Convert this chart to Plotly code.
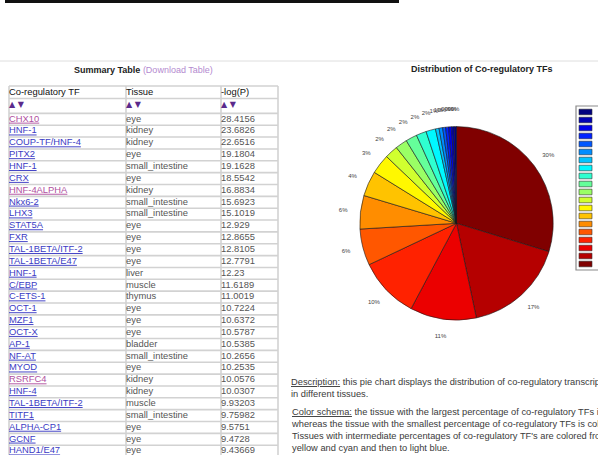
import plotly.graph_objects as go

W, H = 598, 455
FONT = "Arial, Liberation Sans, sans-serif"

# ---------------- data ----------------
table_columns = ["Co-regulatory TF", "Tissue", "-log(P)"]
tf_names = ["CHX10", "HNF-1", "COUP-TF/HNF-4", "PITX2", "HNF-1", "CRX", "HNF-4ALPHA",
            "Nkx6-2", "LHX3", "STAT5A", "FXR", "TAL-1BETA/ITF-2", "TAL-1BETA/E47",
            "HNF-1", "C/EBP", "C-ETS-1", "OCT-1", "MZF1", "OCT-X", "AP-1", "NF-AT",
            "MYOD", "RSRFC4", "HNF-4", "TAL-1BETA/ITF-2", "TITF1", "ALPHA-CP1",
            "GCNF", "HAND1/E47"]
tissues = ["eye", "kidney", "kidney", "eye", "small_intestine", "eye", "kidney",
           "small_intestine", "small_intestine", "eye", "eye", "eye", "eye",
           "liver", "muscle", "thymus", "eye", "eye", "eye", "bladder",
           "small_intestine", "eye", "kidney", "kidney", "muscle",
           "small_intestine", "eye", "eye", "eye"]
neg_log_p = [28.4156, 23.6826, 22.6516, 19.1804, 19.1628, 18.5542, 16.8834,
             15.6923, 15.1019, 12.929, 12.8655, 12.8105, 12.7791, 12.23,
             11.6189, 11.0019, 10.7224, 10.6372, 10.5787, 10.5385, 10.2656,
             10.2535, 10.0576, 10.0307, 9.93203, 9.75982, 9.5751, 9.4728, 9.43669]
visited_rows = [0, 6, 22]

pie_tissues = ["eye", "kidney", "small_intestine", "liver", "muscle", "thymus",
               "bladder", "heart", "lung", "brain", "pancreas", "spleen",
               "stomach", "skin", "bone_marrow", "adrenal_gland", "placenta",
               "testis", "uterus", "prostate"]
pie_values = [29.8, 17.0, 11.1, 10.2, 6.1, 5.6, 4.2, 3.3, 2.2, 2.0, 1.9, 1.7,
              1.6, 0.6, 0.6, 0.5, 0.5, 0.5, 0.4, 0.4]

chart_title = "Distribution of Co-regulatory TFs"
table_title = "Summary Table"
table_link = "(Download Table)"
desc_par1 = ("<u>Description:</u> this pie chart displays the distribution of co-regulatory "
             "transcription factors<br>in different tissues.")
desc_par2 = ("<u>Color schema:</u> the tissue with the largest percentage of co-regulatory TFs is "
             "colored dark red<br>whereas the tissue with the smallest percentage of "
             "co-regulatory TFs is colored dark blue.<br>Tissues with intermediate percentages "
             "of co-regulatory TF's are colored from red to<br>yellow and cyan and then to light blue.")

# ---------------- styles / geometry ----------------
def jet(t):
    c = lambda v: max(0.0, min(1.0, v))
    r, g, b = c(1.5 - abs(4 * t - 3)), c(1.5 - abs(4 * t - 2)), c(1.5 - abs(4 * t - 1))
    return f"rgb({round(255*r)},{round(255*g)},{round(255*b)})"

n_sl = len(pie_values)
slice_colors = [jet((n_sl - 1 - k) / (n_sl - 1)) for k in range(n_sl)]

COL_X = [9, 126, 221, 278]
TBL_TOP = 86
HDR_Y = 92.5
ARW_Y = 104.5
ROW0 = 119.3
PITCH = 11.85
GRID = "#d2d2d2"
LINK = "#3b3bc4"
VISITED = "#b0509e"
CELL = "#555555"
TFS = 9.4

n_rows = len(tf_names)
row_y = [ROW0 + PITCH * i for i in range(n_rows)]
link_colors = [VISITED if i in visited_rows else LINK for i in range(n_rows)]

PIE_CX, PIE_CY, PIE_R = 456.5, 223.3, 96.7
LABEL_R = 1.18
POLAR_MAX = 1.25

fig = go.Figure()

# ---- table cells (pixel axis) ----
txt = dict(mode="text", textposition="middle right", hoverinfo="skip",
           showlegend=False, cliponaxis=False)
fig.add_trace(go.Scatter(x=[COL_X[0]] * n_rows, y=row_y,
                         text=[f"<u>{t}</u>" for t in tf_names],
                         textfont=dict(family=FONT, size=TFS, color=link_colors), **txt))
fig.add_trace(go.Scatter(x=[COL_X[1]] * n_rows, y=row_y, text=tissues,
                         textfont=dict(family=FONT, size=TFS, color=CELL), **txt))
fig.add_trace(go.Scatter(x=[COL_X[2]] * n_rows, y=row_y, text=[str(v) for v in neg_log_p],
                         textfont=dict(family=FONT, size=TFS, color=CELL), **txt))
fig.add_trace(go.Scatter(x=COL_X[:3], y=[HDR_Y] * 3, text=table_columns,
                         textfont=dict(family=FONT, size=TFS, color="#111111"), **txt))
fig.add_trace(go.Scatter(x=COL_X[:3], y=[ARW_Y] * 3, text=["▲ ▼"] * 3,
                         textfont=dict(family="DejaVu Sans", size=8, color="#5a2a8c"), **txt))

shapes = []
# top black bar and separator
shapes.append(dict(type="rect", xref="x", yref="y", x0=5, x1=399, y0=0, y1=3,
                   fillcolor="#111111", line=dict(width=0), layer="above"))
shapes.append(dict(type="line", xref="x", yref="y", x0=0, x1=W, y0=61, y1=61,
                   line=dict(color="#dedede", width=1), layer="below"))
# table grid
bounds = [TBL_TOP, (HDR_Y + ARW_Y) / 2, ROW0 - PITCH / 2] + [ROW0 + PITCH * (i + 0.5) for i in range(n_rows)]
for yb in bounds:
    shapes.append(dict(type="line", xref="x", yref="y", x0=COL_X[0], x1=COL_X[-1], y0=yb, y1=yb,
                       line=dict(color=GRID, width=1.6), layer="below"))
for xb in COL_X:
    shapes.append(dict(type="line", xref="x", yref="y", x0=xb, x1=xb, y0=TBL_TOP, y1=H + 5,
                       line=dict(color=GRID, width=1.6), layer="below"))

# ---- pie ----
fig.add_trace(go.Pie(values=pie_values, labels=pie_tissues, sort=False, direction="clockwise",
                     rotation=0, textinfo="none", hoverinfo="label+percent", showlegend=False,
                     marker=dict(colors=slice_colors, line=dict(color="#1a1a1a", width=0.6)),
                     domain=dict(x=[(PIE_CX - PIE_R) / W, (PIE_CX + PIE_R) / W],
                                 y=[1 - (PIE_CY + PIE_R) / H, 1 - (PIE_CY - PIE_R) / H])))

# ---- pie percentage labels (polar, same centre) ----
total = sum(pie_values)
mids, cum = [], 0.0
for v in pie_values:
    mids.append((cum + v / 2) / total * 360)
    cum += v
pct_text = [f"{int(v / total * 100 + 0.5)}%" for v in pie_values]
fig.add_trace(go.Scatterpolar(r=[LABEL_R] * n_sl, theta=mids, mode="text", text=pct_text,
                              textfont=dict(family=FONT, size=6, color="#444444"),
                              hoverinfo="skip", showlegend=False))
PH = PIE_R * POLAR_MAX

# ---- colour legend (bars on pixel axis) ----
LEG_TOP, LEG_PITCH = 112, 8.0
leg_y = [LEG_TOP + LEG_PITCH * (n_sl - 1 - k) for k in range(n_sl)]
shapes.append(dict(type="rect", xref="x", yref="y", x0=576, x1=W + 5, y0=LEG_TOP - 6,
                   y1=LEG_TOP + LEG_PITCH * (n_sl - 1) + 6,
                   fillcolor="white", line=dict(color="#8a8a8a", width=1.2), layer="below"))
fig.add_trace(go.Bar(orientation="h", y=leg_y, x=[13] * n_sl, base=[579] * n_sl, width=5.6,
                     marker=dict(color=slice_colors, line=dict(color="#333333", width=0.6)),
                     hoverinfo="skip", showlegend=False))

annotations = [
    dict(xref="x", yref="y", x=(COL_X[0] + COL_X[-1]) / 2, y=70, showarrow=False,
         text=f"<b>{table_title}</b> <span style='color:#b48ad0'>{table_link}</span>",
         font=dict(family=FONT, size=9, color="#222222")),
    dict(xref="x", yref="y", x=482, y=69, showarrow=False, text=f"<b>{chart_title}</b>",
         font=dict(family=FONT, size=9, color="#222222")),
    dict(xref="x", yref="y", x=289, y=374.5, xanchor="left", yanchor="top", align="left",
         showarrow=False, text=desc_par1, font=dict(family=FONT, size=9.3, color="#3a3a3a")),
    dict(xref="x", yref="y", x=289, y=405, xanchor="left", yanchor="top", align="left",
         showarrow=False, text=desc_par2, font=dict(family=FONT, size=9.3, color="#3a3a3a")),
]

fig.update_layout(
    width=W, height=H, autosize=False,
    margin=dict(l=0, r=0, t=0, b=0, pad=0),
    paper_bgcolor="white", plot_bgcolor="white",
    xaxis=dict(range=[0, W], domain=[0, 1], visible=False, fixedrange=True),
    yaxis=dict(range=[H, 0], domain=[0, 1], visible=False, fixedrange=True),
    polar=dict(domain=dict(x=[(PIE_CX - PH) / W, (PIE_CX + PH) / W],
                           y=[1 - (PIE_CY + PH) / H, 1 - (PIE_CY - PH) / H]),
               bgcolor="rgba(0,0,0,0)",
               radialaxis=dict(visible=False, range=[0, POLAR_MAX]),
               angularaxis=dict(visible=False, rotation=90, direction="clockwise")),
    shapes=shapes, annotations=annotations, showlegend=False,
)

fig.write_html("out.html", config={"displayModeBar": False},
               post_script="document.body.style.margin='0';document.body.style.overflow='hidden';")
